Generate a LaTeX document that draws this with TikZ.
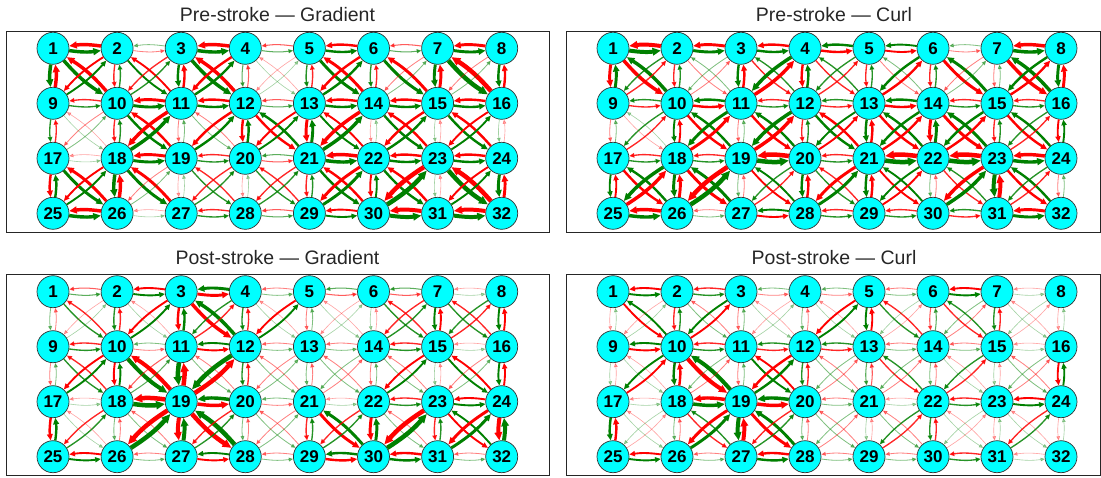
\documentclass[tikz,border=0pt]{standalone}
\usepackage{fontspec}
\setmainfont{Liberation Sans}
\usetikzlibrary{arrows.meta}
\definecolor{mgreen}{RGB}{0,128,0}
\definecolor{mred}{RGB}{255,0,0}
\definecolor{ncyan}{RGB}{0,255,255}
\newcommand\drawpair[4]{%
  \pgfmathsetmacro\lw{0.3+1.05*#4}%
  \pgfmathsetmacro\op{min(1,0.15+0.7*#4)}%
  \pgfmathsetmacro\tl{3.5+1.2*\lw}%
  \pgfmathsetmacro\tw{3+1.1*\lw}%
  \draw[mgreen, line width=\lw pt, opacity=\op, -{Triangle[length=\tl pt,width=\tw pt]}] (#1n#2) to[bend right=8] (#1n#3);
  \draw[mred, line width=\lw pt, opacity=\op, -{Triangle[length=\tl pt,width=\tw pt]}] (#1n#3) to[bend right=8] (#1n#2);
}
\tikzset{
  nd/.style={circle, draw=black!80, line width=0.7pt, fill=ncyan, minimum size=32pt, inner sep=0pt, font=\fontsize{17}{17}\selectfont\bfseries},
  frame/.style={draw=black!85, line width=1pt},
  ttl/.style={anchor=base, font=\fontsize{19.5}{22}\selectfont, text=black!85}
}
\begin{document}
\begin{tikzpicture}[x=1pt,y=1pt]
\useasboundingbox (0,0) rectangle (1101,477);
\clip (0,0) rectangle (1101,477);
% frames
\draw[frame] (6,445) rectangle (549,244.3);
\draw[frame] (566,445) rectangle (1100.5,244.3);
\draw[frame] (6,202.7) rectangle (549,2);
\draw[frame] (566,202.7) rectangle (1100.5,2);
% titles
\node[ttl] (t1) at (277.5,455.5) {Pre-stroke — Gradient};
\node[ttl] (t2) at (834,455.5) {Pre-stroke — Curl};
\node[ttl] (t3) at (277.5,212) {Post-stroke — Gradient};
\node[ttl] (t4) at (834,212) {Post-stroke — Curl};
% nodes
\foreach \p/\xo/\xs/\yo in {p1/53/64.1/48.3, p2/613/64/48.3, p3/53/64.1/291.7, p4/613/64/291.7}{
  \foreach \k in {1,...,32}{
    \pgfmathtruncatemacro\r{(\k-1)/8}
    \pgfmathtruncatemacro\c{\k-1-8*\r}
    \node[nd] (\p n\k) at ({\xo+\xs*\c},{477-(\yo+55*\r)}) {\k};
  }
}
% Panel 1: Pre-stroke Gradient
\foreach \a/\b/\l in {
1/2/3, 3/2/0.5, 3/4/3, 4/5/0.7, 5/6/2, 6/7/0.7, 7/8/2.5,
9/10/1, 10/11/2.5, 11/12/2, 12/13/0.7, 13/14/2, 14/15/2, 15/16/2,
17/18/0.3, 18/19/2.5, 19/20/1, 21/20/0.7, 21/22/3, 22/23/2, 23/24/2,
25/26/3, 26/27/0.3, 27/28/1, 28/29/0.7, 29/30/1.5, 30/31/3.5, 31/32/3.5,
1/9/3, 9/17/1, 25/17/2,
10/2/1, 18/10/1, 18/26/3,
3/11/2, 19/11/0.5, 27/19/0.3,
4/12/0.7, 20/12/2, 28/20/0.3,
5/13/1, 21/13/2.5, 29/21/1,
6/14/1, 22/14/0.3, 30/22/1.5,
7/15/2.5, 15/23/0.3, 23/31/0.3,
8/16/2, 16/24/0.3, 24/32/2.5,
1/10/3, 9/2/1.5, 2/11/1.5, 10/3/1, 3/12/3, 11/4/2, 4/13/0.3, 12/5/0.3,
5/14/2.5, 13/6/2, 6/15/2.5, 14/7/0.5, 7/16/4, 15/8/0.5,
9/18/0.3, 17/10/0.5, 10/19/2, 18/11/3, 11/20/0.5, 19/12/2, 21/12/2, 20/13/1.5,
13/22/1.5, 21/14/3, 14/23/2, 22/15/2, 15/24/2, 23/16/1.5,
17/26/2.5, 25/18/1.5, 18/27/2.5, 26/19/0.5, 19/28/1, 27/20/1, 20/29/1, 28/21/1,
21/30/2, 29/22/2.5, 22/31/2, 30/23/4, 23/32/4, 31/24/1.5}
{\drawpair{p1}{\a}{\b}{\l}}
% Panel 2: Pre-stroke Curl
\foreach \a/\b/\l in {
1/2/3.5, 2/3/2.5, 3/4/2, 5/4/2, 6/5/1.5, 7/6/0.5, 7/8/3,
10/9/1, 11/10/2, 11/12/1, 13/12/1, 14/13/2, 14/15/1, 15/16/1,
17/18/1, 18/19/1, 19/20/4, 20/21/1, 21/22/4, 22/23/4, 23/24/3,
25/26/3, 26/27/0.5, 28/27/1.5, 28/29/1, 29/30/1, 31/30/1, 31/32/2.5,
9/1/2.5, 17/9/0.5, 17/25/1.5,
10/2/1, 10/18/1.5, 18/26/2.5,
3/11/2, 19/11/0.5, 19/27/0.5,
12/4/2, 20/12/1, 20/28/2,
13/5/1, 13/21/2, 21/29/2,
14/6/1, 22/14/2.5, 22/30/0.5,
15/7/0.5, 23/15/1, 23/31/3.5,
8/16/2.5, 24/16/1.5, 32/24/0.5,
10/1/3, 2/9/1, 11/2/0.5, 3/10/0.5, 12/3/1, 4/11/3, 13/4/1, 5/12/1,
14/5/0.5, 6/13/2, 15/6/2.5, 14/7/0.5, 16/7/3, 8/15/2,
18/9/0.3, 10/17/1, 19/10/2, 11/18/2.5, 20/11/2, 12/19/3, 12/21/2, 13/20/1.5,
22/13/2, 14/21/2, 23/14/2.5, 15/22/2, 24/15/2, 16/23/1,
26/17/2, 18/25/3, 27/18/2.5, 26/19/4, 28/19/1.5, 20/27/1, 20/29/1, 28/21/2.5,
30/21/1.5, 22/29/1.5, 31/22/1, 30/23/3, 32/23/2, 24/31/1}
{\drawpair{p2}{\a}{\b}{\l}}
% Panel 3: Post-stroke Gradient
\foreach \a/\b/\l in {
1/2/0.7, 2/3/1.5, 4/3/2.5, 4/5/0.5, 6/5/0.7, 7/6/0.7, 7/8/0.3,
9/10/1, 11/10/0.5, 12/11/1.5, 12/13/0.5, 13/14/0.5, 14/15/1, 15/16/0.3,
17/18/0.3, 18/19/4, 20/19/3, 21/20/0.5, 21/22/0.3, 22/23/1, 23/24/1.5,
25/26/1.5, 26/27/0.5, 28/27/1.5, 28/29/0.5, 30/29/2, 30/31/2, 31/32/0.5,
1/9/0.5, 17/9/0.5, 25/17/2,
2/10/1, 18/10/1.5, 18/26/0.5,
11/3/2, 11/19/4, 27/19/3.5,
4/12/1, 12/20/1, 20/28/0.5,
13/5/0.5, 13/21/0.5, 29/21/1,
6/14/0.3, 22/14/0.5, 30/22/2.5,
7/15/1.5, 15/23/0.3, 31/23/1,
8/16/1.5, 16/24/1.5, 32/24/3.5,
1/10/1, 9/2/0.3, 2/11/0.3, 10/3/1.5, 12/3/3, 4/11/1, 4/13/0.3, 12/5/1.5,
5/14/0.3, 13/6/0.3, 6/15/1, 14/7/1, 7/16/1, 8/15/1,
9/18/1, 17/10/1.5, 10/19/3.5, 18/11/0.7, 11/20/0.5, 12/19/4, 12/21/0.5, 20/13/0.5,
13/22/0.5, 14/21/0.5, 14/23/0.5, 22/15/1.5, 15/24/1.5, 23/16/0.5,
17/26/0.3, 25/18/1, 18/27/0.5, 26/19/4, 28/19/4, 27/20/1, 20/29/0.5, 28/21/0.5,
30/21/2.5, 29/22/1, 22/31/0.5, 30/23/4, 32/23/1.5, 31/24/2.5}
{\drawpair{p3}{\a}{\b}{\l}}
% Panel 4: Post-stroke Curl
\foreach \a/\b/\l in {
1/2/1.5, 2/3/1, 4/3/0.5, 5/4/0.5, 5/6/0.5, 6/7/1.5, 7/8/0.3,
10/9/1.5, 10/11/1, 12/11/1, 13/12/1, 13/14/0.5, 14/15/0.5, 15/16/0.3,
17/18/0.3, 18/19/3, 20/19/3, 20/21/0.5, 21/22/0.3, 22/23/1, 23/24/1.5,
25/26/1.5, 26/27/0.5, 27/28/2, 28/29/0.5, 29/30/0.5, 30/31/1, 31/32/0.3,
9/1/0.3, 9/17/0.3, 17/25/2,
10/2/1, 10/18/2, 18/26/0.5,
11/3/0.5, 19/11/0.5, 19/27/3.5,
4/12/0.5, 12/20/1, 20/28/0.5,
5/13/1.5, 13/21/0.7, 21/29/0.3,
14/6/0.7, 14/22/0.5, 22/30/1,
7/15/1, 15/23/0.3, 31/23/0.3,
16/8/0.3, 24/16/1.5, 32/24/0.3,
10/1/1.5, 9/2/0.3, 2/11/0.5, 3/10/1.5, 3/12/0.3, 11/4/0.3, 4/13/0.3, 12/5/1.5,
5/14/1, 6/13/0.3, 15/6/1, 7/14/0.5, 7/16/0.3, 8/15/0.3,
9/18/0.3, 10/17/1.5, 19/10/3.5, 11/18/0.5, 11/20/1.5, 19/12/2, 12/21/0.5, 13/20/0.5,
22/13/1, 14/21/0.5, 14/23/0.3, 15/22/1, 15/24/0.5, 16/23/0.5,
17/26/0.3, 18/25/0.3, 27/18/1, 26/19/2.5, 28/19/2.5, 27/20/1, 20/29/0.5, 21/28/0.5,
21/30/0.5, 22/29/1, 22/31/0.3, 23/30/0.3, 23/32/0.3, 31/24/1}
{\drawpair{p4}{\a}{\b}{\l}}
\end{tikzpicture}
\end{document}
